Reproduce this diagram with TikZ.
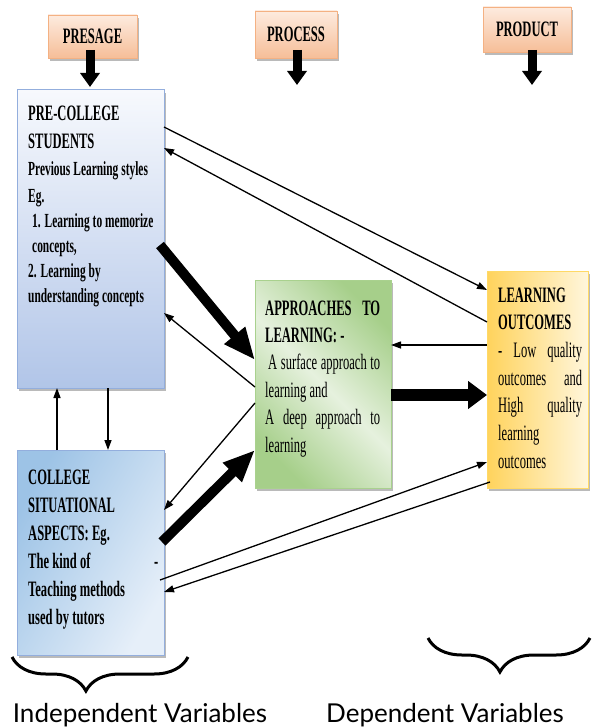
\documentclass[tikz,border=0pt]{standalone}
\usepackage{fontspec}
\setmainfont{Liberation Serif}
\newfontfamily\tnr[FakeStretch=0.57]{Liberation Serif}
\newfontfamily\lato{Lato}
\usetikzlibrary{arrows.meta,shadows,decorations.pathreplacing}
\hyphenpenalty=10000
\exhyphenpenalty=10000
\definecolor{hdrtop}{HTML}{FDEBDF}
\definecolor{hdrbot}{HTML}{F6BE98}
\definecolor{hdrline}{HTML}{F4B183}
\definecolor{pretop}{HTML}{F7F9FD}
\definecolor{prebot}{HTML}{B1C5E8}
\definecolor{preline}{HTML}{93AEDD}
\definecolor{coldark}{HTML}{9DC3E6}
\definecolor{collight}{HTML}{E6EFF9}
\definecolor{grn}{HTML}{A6CF8A}
\definecolor{grnlight}{HTML}{E6F1DE}
\definecolor{grnline}{HTML}{A9D18E}
\definecolor{yel}{HTML}{FFD35C}
\definecolor{yellight}{HTML}{FFF6DC}
\definecolor{yelline}{HTML}{FFD966}
\newcommand\jl[1]{\makebox[\hsize][s]{#1}}
\newcommand\sps{\spaceskip=0.15em plus 0.4em minus 0.03em\xspaceskip=0.2em plus 0.4em\relax}
\begin{document}
\begin{tikzpicture}[x=1pt,y=-1pt,
  shd/.style={drop shadow={shadow xshift=2pt,shadow yshift=-3pt,fill=black!60,opacity=0.45}},
  hdr/.style={shd,draw=hdrline,line width=0.8pt,top color=hdrtop,bottom color=hdrbot,
    inner sep=0,outer sep=0,font=\tnr\bfseries\fontsize{22}{22}\selectfont},
  box/.style={shd,anchor=north west,inner sep=0,outer sep=0,line width=1pt},
  txt/.style={anchor=base west,inner sep=0,text width=#1,align=left},
  hdrarrow/.style={line width=9pt,-{Triangle[width=19pt,length=14pt]}},
  conn/.style={line width=1.3pt,-{Triangle[width=7pt,length=10pt]}},
  bigarrow/.style={line width=10pt,-{Triangle[width=25pt,length=32pt]}},
  bigharrow/.style={line width=12pt,-{Triangle[width=27pt,length=19pt]}},
  brc/.style={decorate,decoration={brace,amplitude=34pt,aspect=#1},line width=3pt}
]
\useasboundingbox (0,0) rectangle (592,727);

% header boxes
\node[hdr,minimum width=89pt,minimum height=43pt] (presage) at (92.5,36.5) {PRESAGE};
\node[hdr,minimum width=82pt,minimum height=47pt] (process) at (296,34.5) {PROCESS};
\node[hdr,minimum width=88pt,minimum height=45pt] (product) at (527,29.5) {PRODUCT};

% main boxes
\node[box,draw=preline,top color=pretop,bottom color=prebot,
  minimum width=147pt,minimum height=298pt] (pre) at (17,90) {};
\node[box,draw=preline,top color=coldark,bottom color=collight,shading angle=60,
  minimum width=147pt,minimum height=205pt] (college) at (17,450) {};
\node[box,draw=grnline,top color=grn,bottom color=grn,middle color=grnlight,shading angle=-45,
  minimum width=136pt,minimum height=208pt] (approach) at (255,280) {};
\node[box,draw=yelline,left color=yel,right color=yellight,
  minimum width=101pt,minimum height=217pt] (out) at (487,271) {};

% header arrows
\coordinate (preend) at (90,87);
\coordinate (procend) at (297,85);
\coordinate (prodend) at (532,85);
\draw[hdrarrow,shorten <=-8pt] (presage.south -| preend) -- (preend);
\draw[hdrarrow,shorten <=-8pt] (process.south -| procend) -- (procend);
\draw[hdrarrow,shorten <=-2pt] (product.south -| prodend) -- (prodend);

% texts
\node[txt=135pt,font=\tnr\bfseries\fontsize{20}{25}\selectfont] (pretext) at (28,121)
 {\sps{\fontsize{22}{25}\selectfont PRE-COLLEGE}\\[3pt]
  {\fontsize{22}{25}\selectfont STUDENTS}\\[2pt]
  Previous Learning styles\\[2pt]
  Eg.\\
  \hspace*{4pt}1. Learning to memorize\\
  \hspace*{4pt}concepts,\\
  2. Learning by\\
  understanding concepts};

\node[txt=115pt,font=\tnr\fontsize{22}{27.4}\selectfont] (apptext) at (265,315)
 {\sps{\bfseries\jl{APPROACHES TO}}\\
  {\bfseries LEARNING: -}\\
  \hspace*{3pt}\makebox[112pt][s]{A surface approach to}\\
  learning and\\
  \jl{A deep approach to}\\
  learning};

\node[txt=84pt,font=\tnr\fontsize{22}{27.7}\selectfont] (outtext) at (498,302)
 {\sps{\bfseries LEARNING}\\
  {\bfseries OUTCOMES}\\
  \jl{- Low quality}\\
  \jl{outcomes and}\\
  \jl{High quality}\\
  learning\\
  outcomes};

\node[txt=130pt,font=\tnr\bfseries\fontsize{22}{28}\selectfont] (coltext) at (28,484)
 {\sps COLLEGE\\
  SITUATIONAL\\
  ASPECTS: Eg.\\
  The kind of\hfill-\hspace*{14pt}\\
  Teaching methods\\
  used by tutors};

% thin connectors
\draw[conn] ([yshift=-37pt]pre.north east) -- ([yshift=-19pt]out.north west);
\draw[conn] ([yshift=-51pt]out.north west) -- ([yshift=-58pt]pre.north east);
\draw[conn] ([yshift=-107pt]approach.north west) -- ([yshift=-223pt]pre.north east);
\draw[conn] ([yshift=-123pt]approach.north west) -- ([yshift=-60pt]college.north east);
\draw[conn] ([yshift=-74pt]out.north west) -- ([yshift=-65pt]approach.north east);
\draw[conn] ([xshift=-4pt,yshift=-130pt]college.north east) -- ([yshift=-191pt]out.north west);
\draw[conn] ([xshift=3pt,yshift=-211pt]out.north west) -- ([yshift=-142pt]college.north east);
\draw[conn] ([xshift=40pt]college.north west) -- ([xshift=40pt]pre.south west);
\draw[conn] ([xshift=91pt]pre.south west) -- ([xshift=91pt]college.north west);

% thick connectors
\draw[bigarrow] ([xshift=-4pt,yshift=-155pt]pre.north east) -- ([yshift=-80pt]approach.north west);
\draw[bigarrow] ([xshift=-2pt,yshift=-92pt]college.north east) -- ([yshift=-170pt]approach.north west);
\draw[bigharrow] ([yshift=-115pt]approach.north east) -- ([yshift=-124pt]out.north west);

% braces
\coordinate (lb1) at (188,657);
\coordinate (lb2) at (12,657);
\coordinate (rb1) at (590,638);
\coordinate (rb2) at (428,638);
\draw[brc=0.58] (lb1) -- (lb2);
\draw[brc=0.556] (rb1) -- (rb2);

\node[anchor=base,inner sep=0,font=\lato\fontsize{26}{26}\selectfont] (indep) at (140,722) {Independent Variables};
\node[anchor=base,inner sep=0,font=\lato\fontsize{26}{26}\selectfont] (dep) at (445,722) {Dependent Variables};
\end{tikzpicture}
\end{document}
